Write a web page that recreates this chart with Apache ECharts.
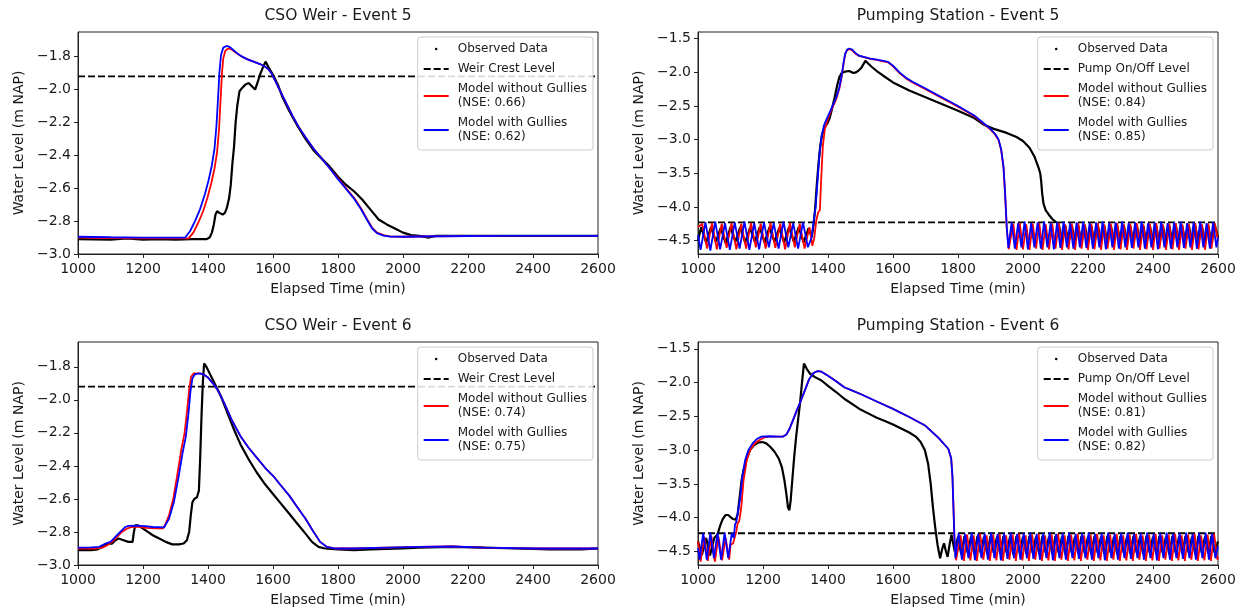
<!DOCTYPE html>
<html><head><meta charset="utf-8">
<script src="https://cdn.jsdelivr.net/npm/echarts@6/dist/echarts.min.js"></script>
<style>html,body{margin:0;padding:0;background:#fff}#c{width:1246px;height:611px}</style>
</head><body><div id="c"></div>
<script>
// ---------- tick labels / texts ----------
const X_TICKS = [1000,1200,1400,1600,1800,2000,2200,2400,2600];
const CSO_Y_TICKS = [-3.0,-2.8,-2.6,-2.4,-2.2,-2.0,-1.8];
const PUMP_Y_TICKS = [-4.5,-4.0,-3.5,-3.0,-2.5,-2.0,-1.5];
const TITLES = ['CSO Weir - Event 5','Pumping Station - Event 5','CSO Weir - Event 6','Pumping Station - Event 6'];
const LEVEL_NAMES = ['Weir Crest Level','Pump On/Off Level','Weir Crest Level','Pump On/Off Level'];
const LEVELS = [-1.92,-4.23,-1.92,-4.23];
const NSE_NO_GULLIES = [0.66,0.84,0.74,0.81];
const NSE_GULLIES = [0.62,0.85,0.75,0.82];

// ---------- CSO Weir - Event 5 ----------
const cso5Obs = [[1000,-2.91],[1100,-2.912],[1150,-2.905],[1200,-2.912],[1250,-2.91],[1300,-2.912],[1350,-2.91],[1395,-2.91],[1405,-2.9],[1412,-2.87],[1418,-2.82],[1423,-2.76],[1428,-2.74],[1435,-2.75],[1445,-2.76],[1452,-2.75],[1458,-2.72],[1465,-2.66],[1470,-2.58],[1475,-2.45],[1480,-2.35],[1485,-2.2],[1490,-2.1],[1497,-2.01],[1505,-1.99],[1515,-1.97],[1525,-1.96],[1535,-1.98],[1545,-2.0],[1552,-1.96],[1560,-1.91],[1568,-1.87],[1577,-1.83],[1585,-1.86],[1600,-1.91],[1615,-1.97],[1630,-2.05],[1650,-2.13],[1675,-2.22],[1700,-2.3],[1725,-2.37],[1750,-2.42],[1775,-2.47],[1800,-2.53],[1825,-2.58],[1850,-2.62],[1875,-2.67],[1900,-2.73],[1925,-2.79],[1950,-2.82],[1975,-2.845],[2000,-2.87],[2025,-2.885],[2050,-2.89],[2080,-2.9],[2100,-2.89],[2200,-2.89],[2400,-2.89],[2600,-2.89]];
const cso5NoGullies = [[1000,-2.9],[1100,-2.903],[1200,-2.905],[1300,-2.905],[1340,-2.905],[1355,-2.87],[1370,-2.81],[1385,-2.74],[1398,-2.66],[1410,-2.57],[1420,-2.48],[1428,-2.38],[1434,-2.24],[1439,-2.05],[1443,-1.9],[1447,-1.81],[1453,-1.765],[1462,-1.75],[1472,-1.755],[1485,-1.775],[1500,-1.795],[1520,-1.815],[1540,-1.83],[1560,-1.845],[1575,-1.86],[1585,-1.875],[1595,-1.9],[1605,-1.94],[1620,-2.0],[1640,-2.08],[1660,-2.16],[1680,-2.23],[1700,-2.29],[1725,-2.36],[1750,-2.42],[1775,-2.48],[1800,-2.54],[1825,-2.6],[1850,-2.66],[1870,-2.72],[1890,-2.79],[1905,-2.84],[1920,-2.87],[1940,-2.885],[1960,-2.893],[2000,-2.895],[2100,-2.892],[2300,-2.89],[2600,-2.89]];
const cso5Gullies = [[1000,-2.895],[1100,-2.898],[1200,-2.9],[1300,-2.9],[1330,-2.9],[1345,-2.86],[1360,-2.8],[1375,-2.73],[1390,-2.64],[1402,-2.55],[1412,-2.46],[1420,-2.36],[1426,-2.22],[1431,-2.05],[1435,-1.9],[1440,-1.79],[1447,-1.745],[1457,-1.735],[1466,-1.74],[1475,-1.755],[1490,-1.78],[1505,-1.8],[1520,-1.815],[1540,-1.83],[1560,-1.845],[1575,-1.86],[1585,-1.875],[1595,-1.9],[1605,-1.94],[1620,-2.0],[1640,-2.08],[1660,-2.16],[1680,-2.23],[1700,-2.29],[1725,-2.36],[1750,-2.42],[1775,-2.48],[1800,-2.545],[1825,-2.605],[1850,-2.665],[1870,-2.725],[1890,-2.795],[1905,-2.845],[1920,-2.873],[1940,-2.888],[1960,-2.894],[2000,-2.895],[2100,-2.892],[2300,-2.89],[2600,-2.89]];

// ---------- Pumping Station - Event 5 ----------
const pump5Obs = [[1000,-4.5],[1010,-4.3],[1025,-4.53],[1040,-4.3],[1055,-4.52],[1070,-4.31],[1085,-4.54],[1100,-4.3],[1115,-4.52],[1130,-4.3],[1145,-4.53],[1160,-4.31],[1175,-4.52],[1190,-4.3],[1205,-4.53],[1220,-4.3],[1235,-4.52],[1250,-4.31],[1265,-4.53],[1280,-4.3],[1295,-4.52],[1310,-4.3],[1325,-4.53],[1340,-4.32],[1350,-4.45],[1356,-4.25],[1360,-4.05],[1365,-3.7],[1370,-3.4],[1376,-3.1],[1382,-2.92],[1390,-2.82],[1398,-2.76],[1405,-2.68],[1412,-2.55],[1420,-2.38],[1428,-2.2],[1435,-2.07],[1442,-2.01],[1452,-1.99],[1465,-1.98],[1478,-2.01],[1486,-2.0],[1495,-1.97],[1503,-1.93],[1510,-1.87],[1515,-1.83],[1522,-1.86],[1535,-1.92],[1550,-1.98],[1570,-2.05],[1600,-2.15],[1650,-2.27],[1700,-2.37],[1750,-2.47],[1800,-2.57],[1850,-2.68],[1880,-2.78],[1910,-2.84],[1950,-2.9],[1980,-2.96],[2000,-3.02],[2020,-3.12],[2035,-3.25],[2048,-3.42],[2053,-3.5],[2056,-3.62],[2059,-3.8],[2063,-3.95],[2070,-4.05],[2080,-4.12],[2090,-4.18],[2100,-4.22],[2110,-4.25],[2120,-4.52],[2130,-4.28],[2140,-4.53],[2150,-4.27],[2160,-4.52],[2170,-4.28],[2180,-4.54],[2190,-4.27],[2200,-4.52],[2210,-4.28],[2220,-4.53],[2230,-4.27],[2240,-4.52],[2250,-4.28],[2260,-4.54],[2270,-4.27],[2280,-4.52],[2290,-4.28],[2300,-4.53],[2310,-4.27],[2320,-4.52],[2330,-4.28],[2340,-4.54],[2350,-4.27],[2360,-4.52],[2370,-4.28],[2380,-4.53],[2390,-4.27],[2400,-4.52],[2410,-4.28],[2420,-4.54],[2430,-4.27],[2440,-4.52],[2450,-4.28],[2460,-4.53],[2470,-4.27],[2480,-4.52],[2490,-4.28],[2500,-4.54],[2510,-4.27],[2520,-4.52],[2530,-4.28],[2540,-4.53],[2550,-4.27],[2560,-4.52],[2570,-4.28],[2580,-4.54],[2590,-4.27],[2600,-4.45]];
const pump5NoGullies = [[1000,-4.3],[1013,-4.25],[1028,-4.62],[1043,-4.24],[1058,-4.63],[1073,-4.25],[1088,-4.61],[1103,-4.24],[1118,-4.63],[1133,-4.25],[1148,-4.62],[1163,-4.24],[1178,-4.6],[1193,-4.25],[1208,-4.62],[1223,-4.24],[1238,-4.61],[1253,-4.25],[1268,-4.63],[1283,-4.24],[1298,-4.6],[1313,-4.25],[1328,-4.62],[1343,-4.3],[1352,-4.58],[1358,-4.45],[1364,-4.2],[1370,-4.08],[1375,-4.05],[1379,-3.6],[1384,-3.1],[1390,-2.85],[1398,-2.72],[1410,-2.56],[1425,-2.4],[1435,-2.24],[1442,-2.07],[1448,-1.87],[1453,-1.73],[1459,-1.67],[1466,-1.655],[1474,-1.67],[1484,-1.72],[1495,-1.755],[1510,-1.775],[1530,-1.8],[1550,-1.815],[1570,-1.835],[1585,-1.85],[1600,-1.91],[1620,-2.01],[1640,-2.09],[1660,-2.15],[1700,-2.25],[1750,-2.38],[1800,-2.51],[1850,-2.65],[1880,-2.77],[1900,-2.85],[1915,-2.93],[1925,-3.01],[1933,-3.16],[1940,-3.42],[1945,-3.82],[1950,-4.32],[1956,-4.63],[1970,-4.25],[1980,-4.64],[1990,-4.24],[2000,-4.63],[2010,-4.26],[2020,-4.64],[2030,-4.25],[2040,-4.62],[2050,-4.24],[2060,-4.64],[2070,-4.26],[2080,-4.63],[2090,-4.25],[2100,-4.62],[2110,-4.24],[2120,-4.64],[2130,-4.26],[2140,-4.63],[2150,-4.25],[2160,-4.64],[2170,-4.24],[2180,-4.62],[2190,-4.26],[2200,-4.64],[2210,-4.25],[2220,-4.63],[2230,-4.24],[2240,-4.64],[2250,-4.26],[2260,-4.62],[2270,-4.25],[2280,-4.64],[2290,-4.24],[2300,-4.63],[2310,-4.26],[2320,-4.64],[2330,-4.25],[2340,-4.62],[2350,-4.24],[2360,-4.64],[2370,-4.26],[2380,-4.63],[2390,-4.25],[2400,-4.64],[2410,-4.24],[2420,-4.62],[2430,-4.26],[2440,-4.64],[2450,-4.25],[2460,-4.63],[2470,-4.24],[2480,-4.64],[2490,-4.26],[2500,-4.62],[2510,-4.25],[2520,-4.64],[2530,-4.24],[2540,-4.63],[2550,-4.26],[2560,-4.64],[2570,-4.25],[2580,-4.62],[2590,-4.24],[2600,-4.5]];
const pump5Gullies = [[1000,-4.42],[1008,-4.64],[1023,-4.23],[1038,-4.65],[1053,-4.22],[1068,-4.63],[1083,-4.24],[1098,-4.64],[1113,-4.23],[1128,-4.62],[1143,-4.22],[1158,-4.64],[1173,-4.24],[1188,-4.63],[1203,-4.23],[1218,-4.6],[1233,-4.24],[1248,-4.62],[1263,-4.22],[1278,-4.6],[1293,-4.24],[1308,-4.62],[1323,-4.23],[1338,-4.6],[1350,-4.45],[1356,-4.2],[1362,-4.0],[1368,-3.6],[1374,-3.2],[1380,-2.95],[1388,-2.78],[1400,-2.65],[1412,-2.52],[1425,-2.38],[1435,-2.22],[1442,-2.05],[1448,-1.85],[1453,-1.72],[1459,-1.66],[1466,-1.645],[1474,-1.66],[1484,-1.71],[1495,-1.75],[1510,-1.77],[1530,-1.795],[1550,-1.81],[1570,-1.83],[1585,-1.845],[1600,-1.9],[1620,-2.0],[1640,-2.08],[1660,-2.14],[1700,-2.24],[1750,-2.37],[1800,-2.5],[1850,-2.64],[1880,-2.76],[1900,-2.84],[1915,-2.92],[1925,-3.0],[1933,-3.15],[1940,-3.4],[1945,-3.8],[1950,-4.3],[1955,-4.61],[1965,-4.23],[1975,-4.62],[1985,-4.24],[1995,-4.6],[2005,-4.22],[2015,-4.63],[2025,-4.24],[2035,-4.6],[2045,-4.23],[2055,-4.62],[2065,-4.22],[2075,-4.6],[2085,-4.24],[2095,-4.63],[2105,-4.23],[2115,-4.61],[2125,-4.22],[2135,-4.6],[2145,-4.24],[2155,-4.62],[2165,-4.23],[2175,-4.6],[2185,-4.22],[2195,-4.61],[2205,-4.24],[2215,-4.62],[2225,-4.23],[2235,-4.6],[2245,-4.22],[2255,-4.63],[2265,-4.24],[2275,-4.6],[2285,-4.23],[2295,-4.62],[2305,-4.22],[2315,-4.6],[2325,-4.24],[2335,-4.61],[2345,-4.23],[2355,-4.6],[2365,-4.22],[2375,-4.62],[2385,-4.24],[2395,-4.6],[2405,-4.23],[2415,-4.63],[2425,-4.22],[2435,-4.6],[2445,-4.24],[2455,-4.62],[2465,-4.23],[2475,-4.6],[2485,-4.22],[2495,-4.61],[2505,-4.24],[2515,-4.6],[2525,-4.23],[2535,-4.62],[2545,-4.22],[2555,-4.6],[2565,-4.24],[2575,-4.62],[2585,-4.23],[2595,-4.6],[2600,-4.45]];

// ---------- CSO Weir - Event 6 ----------
const cso6Obs = [[1000,-2.91],[1040,-2.91],[1060,-2.905],[1075,-2.89],[1090,-2.87],[1105,-2.87],[1115,-2.85],[1125,-2.84],[1140,-2.85],[1155,-2.86],[1168,-2.86],[1172,-2.8],[1176,-2.76],[1185,-2.76],[1200,-2.78],[1215,-2.8],[1230,-2.82],[1250,-2.84],[1270,-2.86],[1290,-2.875],[1310,-2.875],[1325,-2.87],[1335,-2.85],[1342,-2.8],[1347,-2.7],[1352,-2.62],[1358,-2.6],[1366,-2.59],[1372,-2.55],[1376,-2.35],[1380,-2.1],[1384,-1.9],[1388,-1.78],[1395,-1.8],[1405,-1.84],[1420,-1.9],[1440,-1.98],[1460,-2.08],[1480,-2.18],[1500,-2.27],[1525,-2.36],[1550,-2.44],[1575,-2.51],[1600,-2.57],[1625,-2.63],[1650,-2.69],[1675,-2.75],[1700,-2.81],[1720,-2.86],[1740,-2.89],[1760,-2.9],[1800,-2.905],[1850,-2.91],[1900,-2.905],[2000,-2.9],[2050,-2.895],[2150,-2.89],[2250,-2.895],[2350,-2.9],[2450,-2.905],[2550,-2.905],[2600,-2.9]];
const cso6NoGullies = [[1000,-2.9],[1050,-2.9],[1075,-2.895],[1090,-2.88],[1105,-2.86],[1120,-2.83],[1135,-2.8],[1150,-2.78],[1165,-2.77],[1180,-2.768],[1210,-2.775],[1240,-2.778],[1262,-2.778],[1270,-2.75],[1280,-2.7],[1293,-2.6],[1305,-2.46],[1318,-2.3],[1328,-2.2],[1336,-2.06],[1342,-1.94],[1348,-1.86],[1356,-1.84],[1372,-1.84],[1385,-1.845],[1400,-1.865],[1415,-1.9],[1430,-1.94],[1450,-2.02],[1475,-2.13],[1500,-2.22],[1525,-2.29],[1550,-2.35],[1575,-2.41],[1600,-2.46],[1625,-2.52],[1650,-2.58],[1675,-2.65],[1700,-2.72],[1725,-2.8],[1745,-2.86],[1765,-2.89],[1790,-2.9],[1850,-2.9],[1950,-2.895],[2050,-2.89],[2150,-2.888],[2250,-2.895],[2400,-2.9],[2600,-2.9]];
const cso6Gullies = [[1000,-2.895],[1040,-2.893],[1065,-2.89],[1085,-2.87],[1100,-2.86],[1115,-2.83],[1130,-2.8],[1145,-2.77],[1155,-2.763],[1180,-2.762],[1205,-2.765],[1230,-2.77],[1265,-2.772],[1280,-2.72],[1295,-2.62],[1310,-2.46],[1322,-2.32],[1332,-2.22],[1340,-2.08],[1346,-1.95],[1352,-1.87],[1360,-1.845],[1375,-1.84],[1388,-1.848],[1400,-1.865],[1415,-1.9],[1430,-1.94],[1450,-2.02],[1475,-2.13],[1500,-2.22],[1525,-2.29],[1550,-2.35],[1575,-2.41],[1600,-2.46],[1625,-2.52],[1650,-2.58],[1675,-2.65],[1700,-2.72],[1725,-2.8],[1745,-2.86],[1765,-2.89],[1790,-2.9],[1850,-2.9],[1950,-2.895],[2050,-2.89],[2150,-2.888],[2250,-2.895],[2400,-2.9],[2600,-2.9]];

// ---------- Pumping Station - Event 6 ----------
const pump6Obs = [[1000,-4.35],[1012,-4.55],[1025,-4.3],[1037,-4.56],[1050,-4.3],[1060,-4.25],[1068,-4.12],[1076,-4.02],[1085,-3.96],[1093,-3.96],[1100,-3.99],[1108,-4.02],[1116,-4.03],[1122,-3.95],[1128,-3.7],[1134,-3.45],[1140,-3.3],[1150,-3.12],[1160,-3.0],[1172,-2.93],[1185,-2.89],[1198,-2.88],[1210,-2.9],[1222,-2.95],[1235,-3.02],[1248,-3.12],[1258,-3.25],[1266,-3.45],[1272,-3.65],[1277,-3.85],[1281,-3.89],[1285,-3.75],[1290,-3.45],[1296,-3.1],[1302,-2.8],[1308,-2.55],[1314,-2.3],[1320,-2.0],[1326,-1.72],[1335,-1.8],[1345,-1.87],[1360,-1.92],[1380,-1.97],[1400,-2.05],[1425,-2.14],[1450,-2.24],[1475,-2.32],[1500,-2.4],[1525,-2.46],[1550,-2.52],[1575,-2.57],[1600,-2.62],[1625,-2.68],[1650,-2.74],[1670,-2.8],[1685,-2.88],[1698,-3.0],[1708,-3.2],[1716,-3.5],[1723,-3.85],[1730,-4.15],[1737,-4.4],[1745,-4.6],[1752,-4.45],[1757,-4.38],[1763,-4.5],[1768,-4.58],[1774,-4.4],[1780,-4.25],[1790,-4.5],[1800,-4.28],[1810,-4.54],[1820,-4.27],[1830,-4.52],[1840,-4.28],[1850,-4.53],[1860,-4.27],[1870,-4.52],[1880,-4.28],[1890,-4.54],[1900,-4.27],[1910,-4.52],[1920,-4.28],[1930,-4.53],[1940,-4.27],[1950,-4.52],[1960,-4.28],[1970,-4.54],[1980,-4.27],[1990,-4.52],[2000,-4.28],[2010,-4.53],[2020,-4.27],[2030,-4.52],[2040,-4.28],[2050,-4.54],[2060,-4.27],[2070,-4.52],[2080,-4.28],[2090,-4.53],[2100,-4.27],[2110,-4.52],[2120,-4.28],[2130,-4.54],[2140,-4.27],[2150,-4.52],[2160,-4.28],[2170,-4.53],[2180,-4.27],[2190,-4.52],[2200,-4.28],[2210,-4.54],[2220,-4.27],[2230,-4.52],[2240,-4.28],[2250,-4.53],[2260,-4.27],[2270,-4.52],[2280,-4.28],[2290,-4.54],[2300,-4.27],[2310,-4.52],[2320,-4.28],[2330,-4.53],[2340,-4.27],[2350,-4.52],[2360,-4.28],[2370,-4.54],[2380,-4.27],[2390,-4.52],[2400,-4.28],[2410,-4.53],[2420,-4.27],[2430,-4.52],[2440,-4.28],[2450,-4.54],[2460,-4.27],[2470,-4.52],[2480,-4.28],[2490,-4.53],[2500,-4.27],[2510,-4.52],[2520,-4.28],[2530,-4.54],[2540,-4.27],[2550,-4.52],[2560,-4.28],[2570,-4.53],[2580,-4.27],[2590,-4.52],[2600,-4.35]];
const pump6NoGullies = [[1000,-4.35],[1008,-4.65],[1019,-4.28],[1030,-4.64],[1041,-4.27],[1052,-4.65],[1063,-4.28],[1074,-4.63],[1085,-4.3],[1096,-4.62],[1100,-4.4],[1108,-4.38],[1114,-4.38],[1118,-4.2],[1122,-4.08],[1127,-4.05],[1133,-3.85],[1140,-3.45],[1150,-3.15],[1160,-3.0],[1175,-2.9],[1190,-2.85],[1205,-2.81],[1220,-2.8],[1245,-2.8],[1262,-2.8],[1272,-2.77],[1282,-2.68],[1292,-2.56],[1305,-2.4],[1318,-2.25],[1330,-2.1],[1342,-1.95],[1355,-1.86],[1368,-1.83],[1380,-1.84],[1400,-1.9],[1425,-1.98],[1450,-2.07],[1475,-2.12],[1500,-2.17],[1550,-2.28],[1600,-2.39],[1650,-2.51],[1700,-2.64],[1740,-2.82],[1770,-2.98],[1779,-3.12],[1783,-3.4],[1786,-3.85],[1789,-4.3],[1794,-4.63],[1808,-4.26],[1818,-4.64],[1828,-4.25],[1838,-4.63],[1848,-4.26],[1858,-4.64],[1868,-4.24],[1878,-4.62],[1888,-4.26],[1898,-4.64],[1908,-4.25],[1918,-4.63],[1928,-4.24],[1938,-4.64],[1948,-4.26],[1958,-4.62],[1968,-4.25],[1978,-4.64],[1988,-4.24],[1998,-4.63],[2008,-4.26],[2018,-4.64],[2028,-4.25],[2038,-4.62],[2048,-4.24],[2058,-4.64],[2068,-4.26],[2078,-4.63],[2088,-4.25],[2098,-4.64],[2108,-4.24],[2118,-4.62],[2128,-4.26],[2138,-4.64],[2148,-4.25],[2158,-4.63],[2168,-4.24],[2178,-4.64],[2188,-4.26],[2198,-4.62],[2208,-4.25],[2218,-4.64],[2228,-4.24],[2238,-4.63],[2248,-4.26],[2258,-4.64],[2268,-4.25],[2278,-4.62],[2288,-4.24],[2298,-4.64],[2308,-4.26],[2318,-4.63],[2328,-4.25],[2338,-4.64],[2348,-4.24],[2358,-4.62],[2368,-4.26],[2378,-4.64],[2388,-4.25],[2398,-4.63],[2408,-4.24],[2418,-4.64],[2428,-4.26],[2438,-4.62],[2448,-4.25],[2458,-4.64],[2468,-4.24],[2478,-4.63],[2488,-4.26],[2498,-4.64],[2508,-4.25],[2518,-4.62],[2528,-4.24],[2538,-4.64],[2548,-4.26],[2558,-4.63],[2568,-4.25],[2578,-4.64],[2588,-4.24],[2598,-4.62],[2600,-4.58]];
const pump6Gullies = [[1000,-4.45],[1005,-4.62],[1016,-4.23],[1027,-4.62],[1038,-4.22],[1049,-4.6],[1060,-4.23],[1071,-4.62],[1082,-4.22],[1093,-4.6],[1104,-4.23],[1110,-4.3],[1114,-4.1],[1118,-4.06],[1124,-4.04],[1130,-3.7],[1136,-3.4],[1145,-3.15],[1155,-3.0],[1168,-2.9],[1180,-2.84],[1195,-2.8],[1220,-2.795],[1245,-2.8],[1262,-2.8],[1272,-2.77],[1282,-2.68],[1292,-2.56],[1305,-2.4],[1318,-2.25],[1330,-2.1],[1342,-1.95],[1355,-1.86],[1368,-1.83],[1380,-1.84],[1400,-1.9],[1425,-1.98],[1450,-2.07],[1475,-2.12],[1500,-2.17],[1550,-2.28],[1600,-2.39],[1650,-2.51],[1700,-2.64],[1740,-2.82],[1770,-2.98],[1779,-3.12],[1783,-3.4],[1786,-3.85],[1789,-4.3],[1792,-4.6],[1802,-4.23],[1812,-4.62],[1822,-4.24],[1832,-4.6],[1842,-4.22],[1852,-4.63],[1862,-4.24],[1872,-4.6],[1882,-4.23],[1892,-4.62],[1902,-4.22],[1912,-4.6],[1922,-4.24],[1932,-4.63],[1942,-4.23],[1952,-4.61],[1962,-4.22],[1972,-4.6],[1982,-4.24],[1992,-4.62],[2002,-4.23],[2012,-4.6],[2022,-4.22],[2032,-4.61],[2042,-4.24],[2052,-4.62],[2062,-4.23],[2072,-4.6],[2082,-4.22],[2092,-4.63],[2102,-4.24],[2112,-4.6],[2122,-4.23],[2132,-4.62],[2142,-4.22],[2152,-4.6],[2162,-4.24],[2172,-4.61],[2182,-4.23],[2192,-4.6],[2202,-4.22],[2212,-4.62],[2222,-4.24],[2232,-4.6],[2242,-4.23],[2252,-4.63],[2262,-4.22],[2272,-4.6],[2282,-4.24],[2292,-4.62],[2302,-4.23],[2312,-4.6],[2322,-4.22],[2332,-4.61],[2342,-4.24],[2352,-4.6],[2362,-4.23],[2372,-4.62],[2382,-4.22],[2392,-4.6],[2402,-4.24],[2412,-4.63],[2422,-4.23],[2432,-4.6],[2442,-4.22],[2452,-4.62],[2462,-4.24],[2472,-4.6],[2482,-4.23],[2492,-4.61],[2502,-4.22],[2512,-4.6],[2522,-4.24],[2532,-4.62],[2542,-4.23],[2552,-4.6],[2562,-4.22],[2572,-4.62],[2582,-4.24],[2592,-4.6],[2600,-4.42]];

const PANELS = [
  {obs: cso5Obs, noG: cso5NoGullies, g: cso5Gullies, yTicks: CSO_Y_TICKS},
  {obs: pump5Obs, noG: pump5NoGullies, g: pump5Gullies, yTicks: PUMP_Y_TICKS},
  {obs: cso6Obs, noG: cso6NoGullies, g: cso6Gullies, yTicks: CSO_Y_TICKS},
  {obs: pump6Obs, noG: pump6NoGullies, g: pump6Gullies, yTicks: PUMP_Y_TICKS}
];

// ---------- layout (not data) ----------
const FONT = 'DejaVu Sans';
const TXT = '#1a1a1a';
const GRID_POS = [
  {left: 78, top: 32, width: 520, height: 222},
  {left: 698, top: 32, width: 520, height: 222},
  {left: 78, top: 342, width: 520, height: 223},
  {left: 698, top: 342, width: 520, height: 223}
];
const Y_RANGE = [[-3.0, -1.65], [-4.7, -1.4], [-3.0, -1.65], [-4.7, -1.4]];
const fmtY = v => (v < 0 ? '\u2212' : '') + Math.abs(v).toFixed(1);
const fmtX = v => String(Math.round(v));

const option = {
  animation: false,
  backgroundColor: '#fff',
  textStyle: {fontFamily: FONT},
  title: TITLES.map((t, i) => ({
    text: t, left: GRID_POS[i].left + GRID_POS[i].width / 2, textAlign: 'center',
    top: GRID_POS[i].top - 24, padding: 0,
    textStyle: {fontFamily: FONT, fontSize: 15.5, fontWeight: 'normal', color: TXT}
  })),
  grid: GRID_POS.map(p => Object.assign({show: true, borderColor: '#222', borderWidth: 1, containLabel: false, outerBoundsMode: 'none'}, p)),
  xAxis: GRID_POS.map((p, i) => ({
    type: 'value', gridIndex: i, min: X_TICKS[0], max: X_TICKS[X_TICKS.length - 1], interval: X_TICKS[1] - X_TICKS[0],
    name: 'Elapsed Time (min)', nameLocation: 'middle', nameGap: 28,
    nameTextStyle: {fontFamily: FONT, fontSize: 14, color: TXT},
    axisLine: {show: true, onZero: false, lineStyle: {color: '#222', width: 1}},
    axisTick: {show: true, length: 4, lineStyle: {color: '#222'}},
    axisLabel: {fontFamily: FONT, fontSize: 14, color: TXT, margin: 8, formatter: fmtX},
    splitLine: {show: false}
  })),
  yAxis: GRID_POS.map((p, i) => ({
    type: 'value', gridIndex: i, min: Y_RANGE[i][0], max: Y_RANGE[i][1],
    name: 'Water Level (m NAP)', nameLocation: 'middle', nameGap: 52,
    nameTextStyle: {fontFamily: FONT, fontSize: 14, color: TXT},
    axisLine: {show: true, onZero: false, lineStyle: {color: '#222', width: 1}},
    axisTick: {show: true, length: 4, lineStyle: {color: '#222'}, customValues: PANELS[i].yTicks},
    axisLabel: {fontFamily: FONT, fontSize: 14, color: TXT, margin: 7, formatter: fmtY, customValues: PANELS[i].yTicks},
    splitLine: {show: false}
  })),
  legend: GRID_POS.map((p, i) => ({
    orient: 'vertical', selectedMode: false,
    right: 1246 - (p.left + p.width) + 5, top: p.top + 5,
    data: [{name: 'Observed Data', icon: 'circle'}, LEVEL_NAMES[i], 'Model without Gullies', 'Model with Gullies'],
    itemWidth: 25, itemHeight: 2.5, itemGap: 6,
    padding: [5, 6, 6, 5],
    backgroundColor: 'rgba(255,255,255,0.85)', borderColor: '#cccccc', borderWidth: 1, borderRadius: 3,
    textStyle: {fontFamily: FONT, fontSize: 12, lineHeight: 14, color: TXT, padding: [0, 0, 0, 4]},
    formatter: name => {
      if (name === 'Model without Gullies') return name + '\n(NSE: ' + NSE_NO_GULLIES[i].toFixed(2) + ')';
      if (name === 'Model with Gullies') return name + '\n(NSE: ' + NSE_GULLIES[i].toFixed(2) + ')';
      return name;
    }
  })),
  series: []
};

PANELS.forEach((pn, i) => {
  const base = {type: 'line', xAxisIndex: i, yAxisIndex: i, symbol: 'none', showSymbol: false, silent: true};
  option.series.push(Object.assign({}, base, {
    name: 'Observed Data', data: pn.obs, color: '#000',
    itemStyle: {color: '#000'}, lineStyle: {color: '#000', width: 2.2}, z: 2
  }));
  option.series.push(Object.assign({}, base, {
    name: LEVEL_NAMES[i], data: [[X_TICKS[0], LEVELS[i]], [X_TICKS[X_TICKS.length - 1], LEVELS[i]]], color: '#000',
    itemStyle: {color: '#000'}, lineStyle: {color: '#000', width: 1.8, type: [7, 3]}, z: 3
  }));
  option.series.push(Object.assign({}, base, {
    name: 'Model without Gullies', data: pn.noG, color: '#ff0000',
    itemStyle: {color: '#ff0000'}, lineStyle: {color: '#ff0000', width: 1.8}, z: 4
  }));
  option.series.push(Object.assign({}, base, {
    name: 'Model with Gullies', data: pn.g, color: '#0000ff',
    itemStyle: {color: '#0000ff'}, lineStyle: {color: '#0000ff', width: 1.8}, z: 5
  }));
});

const chart = echarts.init(document.getElementById('c'), null, {renderer: 'canvas'});
chart.setOption(option);
</script>
</body></html>
